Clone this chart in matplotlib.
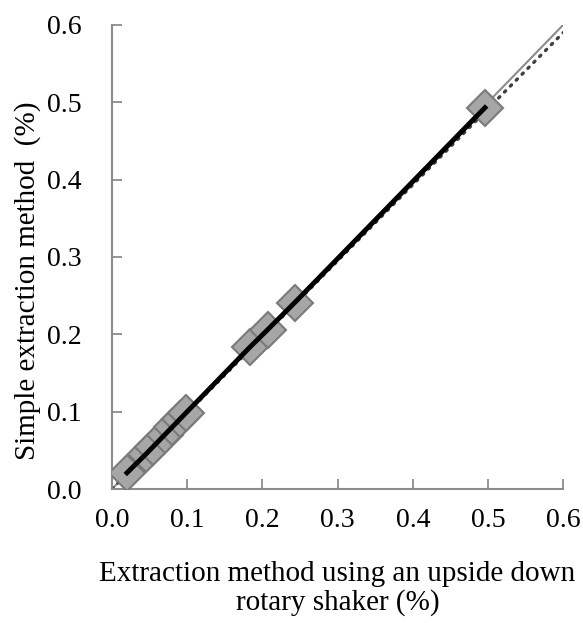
import numpy as np
import matplotlib
matplotlib.use("Agg")
import matplotlib.pyplot as plt

# data (%)
shaker = [0.02, 0.045, 0.055, 0.07, 0.08, 0.09, 0.098, 0.184, 0.207, 0.243, 0.496]
simple = [0.021, 0.045, 0.055, 0.07, 0.08, 0.09, 0.098, 0.184, 0.206, 0.241, 0.493]
ref_x = [0.0, 0.6]
ref_y = [0.0, 0.6]
fit_x = [0.0, 0.6]
fit_y = [0.0, 0.59]
ticks = [0.0, 0.1, 0.2, 0.3, 0.4, 0.5, 0.6]

plt.rcParams['font.family'] = ['Liberation Serif', 'DejaVu Serif']

fig = plt.figure(figsize=(5.83, 6.23), dpi=100)
ax = fig.add_axes([0.192, 0.215, 0.774, 0.745])

ax.plot(ref_x, ref_y, color='#8c8c8c', lw=1.5, zorder=1)
ax.plot(fit_x, fit_y, color='#404040', lw=2.4, ls=(0, (0.5, 2.0)),
        dash_capstyle='round', zorder=2)
ax.plot(shaker, simple, ls='none', marker='D', ms=18,
        mfc='#a6a6a6', mec='#7a7a7a', mew=1.5, zorder=3)
ax.plot(shaker, simple, color='black', lw=3.5, zorder=4)

ax.set_xlim(0, 0.6)
ax.set_ylim(0, 0.6)
ax.set_xticks(ticks)
ax.set_yticks(ticks)
ax.xaxis.set_major_formatter(matplotlib.ticker.FormatStrFormatter('%.1f'))
ax.yaxis.set_major_formatter(matplotlib.ticker.FormatStrFormatter('%.1f'))

for s in ['top', 'right']:
    ax.spines[s].set_visible(False)
for s in ['left', 'bottom']:
    ax.spines[s].set_color('#8c8c8c')
    ax.spines[s].set_linewidth(1.5)

ax.tick_params(direction='in', length=7, width=1.3, color='#8c8c8c',
               labelsize=20)
ax.tick_params(axis='x', pad=14)
ax.tick_params(axis='y', pad=22)

ax.set_xlabel('Extraction method using an upside down\nrotary shaker (%)',
              fontsize=21, labelpad=20, linespacing=1.1)
ax.set_ylabel('Simple extraction method  (%)', fontsize=21)
ax.yaxis.set_label_coords(-0.157, 0.448)

fig.savefig('out.png', dpi=100)
